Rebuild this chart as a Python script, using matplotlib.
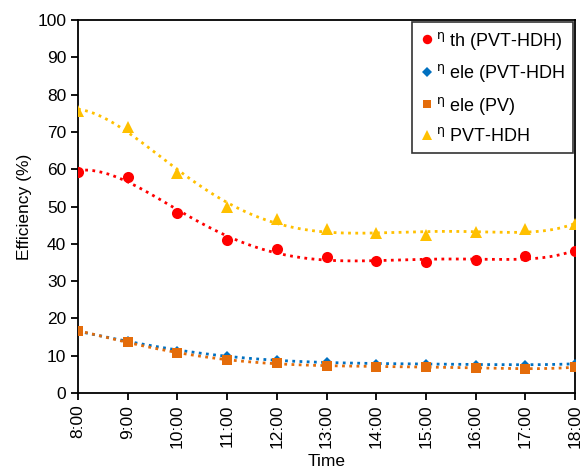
import numpy as np
import matplotlib
matplotlib.use("Agg")
from matplotlib import pyplot as plt

plt.rcParams["font.family"] = ["Liberation Sans", "DejaVu Sans"]
plt.rcParams["mathtext.fontset"] = "dejavusans"

times = ["8:00", "9:00", "10:00", "11:00", "12:00", "13:00",
         "14:00", "15:00", "16:00", "17:00", "18:00"]
eta_th = [59.3, 58.0, 48.2, 41.0, 38.5, 36.4, 35.4, 35.0, 35.7, 36.7, 38.0]
eta_ele_pvt = [16.5, 14.0, 11.3, 9.9, 8.8, 8.2, 7.8, 7.8, 7.6, 7.6, 7.8]
eta_ele_pv = [16.7, 13.6, 10.8, 8.8, 8.0, 7.3, 7.0, 7.0, 6.7, 6.5, 6.9]
eta_total = [75.7, 71.4, 58.9, 49.9, 46.6, 43.9, 42.8, 42.4, 43.1, 43.9, 45.2]

x = np.arange(len(times))

fig = plt.figure(figsize=(5.82, 4.70), dpi=100)
ax = fig.add_axes([0.134, 0.164, 0.854, 0.793])

series = [
    (eta_th, "#FF0000", "o", 8, r"$^{\mathrm{η}}$ th (PVT-HDH)"),
    (eta_ele_pvt, "#0070C0", "D", 5.5, r"$^{\mathrm{η}}$ ele (PVT-HDH"),
    (eta_ele_pv, "#E46C0A", "s", 6.5, r"$^{\mathrm{η}}$ ele (PV)"),
    (eta_total, "#FFC000", "^", 8, r"$^{\mathrm{η}}$ PVT-HDH"),
]

xs = np.linspace(0, len(times) - 1, 200)
for vals, col, mk, ms, lab in series:
    # polynomial trendline like the excel one
    p = np.polyfit(x, vals, 5)
    ax.plot(xs, np.polyval(p, xs), ls=(0, (1, 1.6)), lw=2, color=col, zorder=2)
    ax.plot(x, vals, ls="none", marker=mk, ms=ms, color=col,
            markeredgewidth=0, label=lab, zorder=3)

ax.set_xlim(0, len(times) - 1)
ax.set_ylim(0, 100)
ax.set_xticks(x)
ax.set_xticklabels(times, rotation=90, fontsize=12.5)
ax.set_yticks(np.arange(0, 101, 10))
ax.tick_params(axis="y", labelsize=12.5, direction="out", length=5, width=1.3)
ax.tick_params(axis="x", direction="out", length=5, width=1.3)
for s in ax.spines.values():
    s.set_linewidth(1.3)

ax.set_xlabel("Time", fontsize=12.5, labelpad=4)
ax.set_ylabel("Efficiency (%)", fontsize=12.5, labelpad=4)

leg = ax.legend(loc="upper right", fontsize=13, frameon=True, fancybox=False,
                edgecolor="black", borderaxespad=0.1, handletextpad=0.05,
                handlelength=0.9, labelspacing=0.58, borderpad=0.42,
                markerscale=0.85)
leg.get_frame().set_linewidth(1.2)

fig.savefig("out.png", dpi=100)
